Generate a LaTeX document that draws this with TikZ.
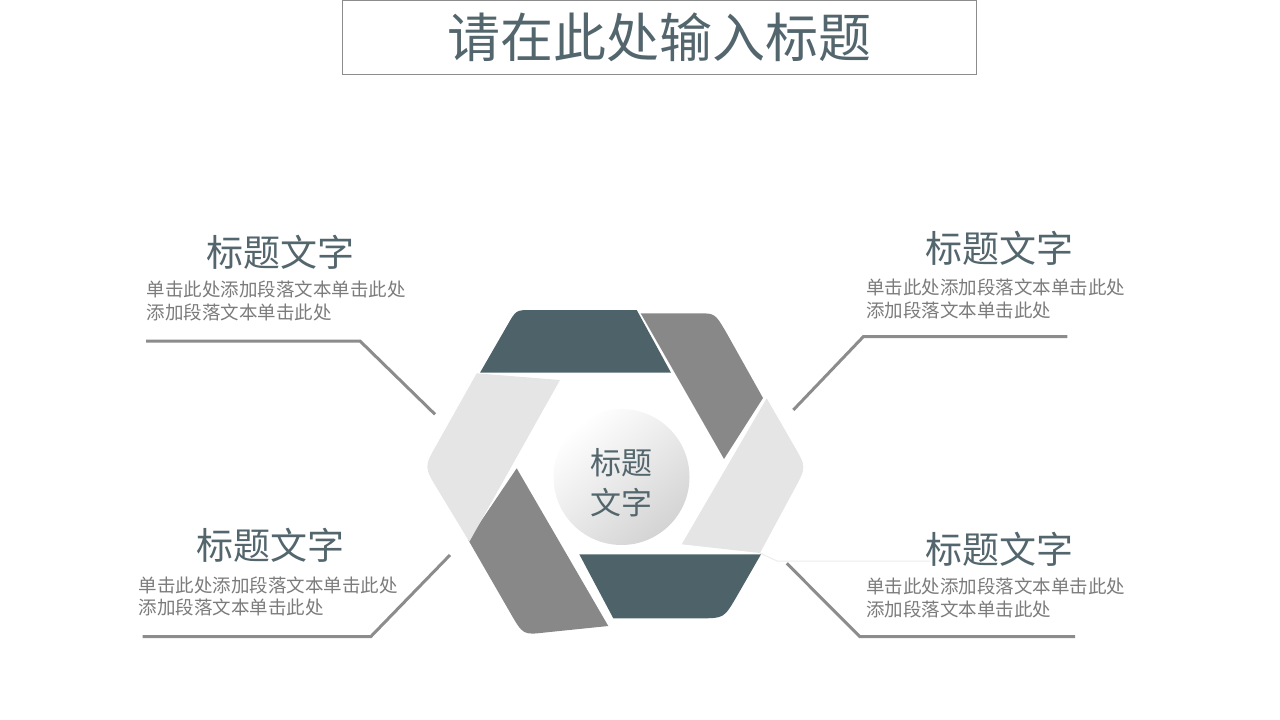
\documentclass[tikz,border=0pt]{standalone}
\usepackage{fontspec}
\setmainfont{Noto Sans CJK SC}
\definecolor{cdark}{HTML}{4E6369}
\definecolor{cgray}{HTML}{888888}
\definecolor{clight}{HTML}{E5E5E5}
\definecolor{ctitle}{HTML}{54666D}
\definecolor{cbody}{HTML}{7B7B7B}
\definecolor{cline}{HTML}{8C8C8C}
\definecolor{cfaint}{HTML}{EBEBEB}
\begin{document}
\begin{tikzpicture}[x=1pt,y=-1pt,
  darkpiece/.style={fill=cdark},
  graypiece/.style={fill=cgray},
  lightpiece/.style={fill=clight},
  htitle/.style={text=ctitle, font=\fontsize{37}{44}\selectfont, inner sep=0pt},
  hbody/.style={text=cbody, font=\fontsize{18.5}{22}\selectfont, inner sep=0pt, anchor=west},
  leader/.style={draw=cline, line width=3pt}]
\useasboundingbox (0,0) rectangle (1280,720);

% title box
\node[draw=cline, line width=1pt, minimum width=634pt, minimum height=74pt, inner sep=0pt,
      text=ctitle, font=\fontsize{53}{60}\selectfont] (maintitle) at (659.5,37) {请在此处输入标题};

% hexagon pieces
\fill[darkpiece] (480,372.7) -- (507.5,325) .. controls (516,310) .. (532,310) -- (636.7,310) -- (671,372.7) -- cycle;
\fill[graypiece] (640.7,313.3) -- (698,313.3) .. controls (715,313.3) .. (726,332) -- (763,398) -- (724,459) -- cycle;
\fill[lightpiece] (766.7,398.3) -- (793.6,445) .. controls (806.5,467) .. (794,490) -- (760,553) -- (681.7,544.3) -- cycle;
\fill[darkpiece] (579.3,554.3) -- (761,554.3) -- (737,596) .. controls (724,618.3) .. (700,618.3) -- (613.3,618.3) -- cycle;
\fill[graypiece] (516.7,468.3) -- (468.3,540) -- (509.8,612) .. controls (523,635) .. (545,632.5) -- (608.3,626) -- cycle;
\fill[lightpiece] (476.7,373.3) -- (560,380) -- (469.3,541.7) -- (438,490) .. controls (424,467) .. (436.4,445) -- cycle;
\draw[cfaint, line width=1pt] (760,553) -- (777,561) -- (930,561);

% hub
\node[circle, minimum size=136pt, inner sep=0pt, top color=white, bottom color=black!17, shading angle=40] (hub) at (621.5,477) {};
\node[text=ctitle, font=\fontsize{31}{40}\selectfont, align=center, inner sep=0pt] (hubtext) at (621.7,482.5) {标题\\文字};

% top-left label
\node[htitle] (t1) at (280,252) {标题文字};
\node[hbody] (b1a) at (146.7,289.5) {单击此处添加段落文本单击此处};
\node[hbody] (b1b) at (146.7,312.5) {添加段落文本单击此处};
\coordinate (l1s) at (146,341);
\coordinate (l1k) at (360,341);
\coordinate (l1e) at (435,414.3);
\draw[leader] (l1s) -- (l1k) -- (l1e);

% top-right label
\node[htitle] (t2) at (999,248.5) {标题文字};
\node[hbody] (b2a) at (866,287) {单击此处添加段落文本单击此处};
\node[hbody] (b2b) at (866,310) {添加段落文本单击此处};
\coordinate (l2s) at (793.3,410);
\coordinate (l2k) at (863.3,336.7);
\coordinate (l2e) at (1067.3,336.7);
\draw[leader] (l2s) -- (l2k) -- (l2e);

% bottom-left label
\node[htitle] (t3) at (270.5,545.5) {标题文字};
\node[hbody] (b3a) at (138.3,585) {单击此处添加段落文本单击此处};
\node[hbody] (b3b) at (138.3,607) {添加段落文本单击此处};
\coordinate (l3s) at (142.7,636.7);
\coordinate (l3k) at (370.7,636.7);
\coordinate (l3e) at (450,555);
\draw[leader] (l3s) -- (l3k) -- (l3e);

% bottom-right label
\node[htitle] (t4) at (999,549) {标题文字};
\node[hbody] (b4a) at (866,586.5) {单击此处添加段落文本单击此处};
\node[hbody] (b4b) at (866,609.5) {添加段落文本单击此处};
\coordinate (l4s) at (786.7,563.3);
\coordinate (l4k) at (860,636.7);
\coordinate (l4e) at (1075,636.7);
\draw[leader] (l4s) -- (l4k) -- (l4e);
\end{tikzpicture}
\end{document}
